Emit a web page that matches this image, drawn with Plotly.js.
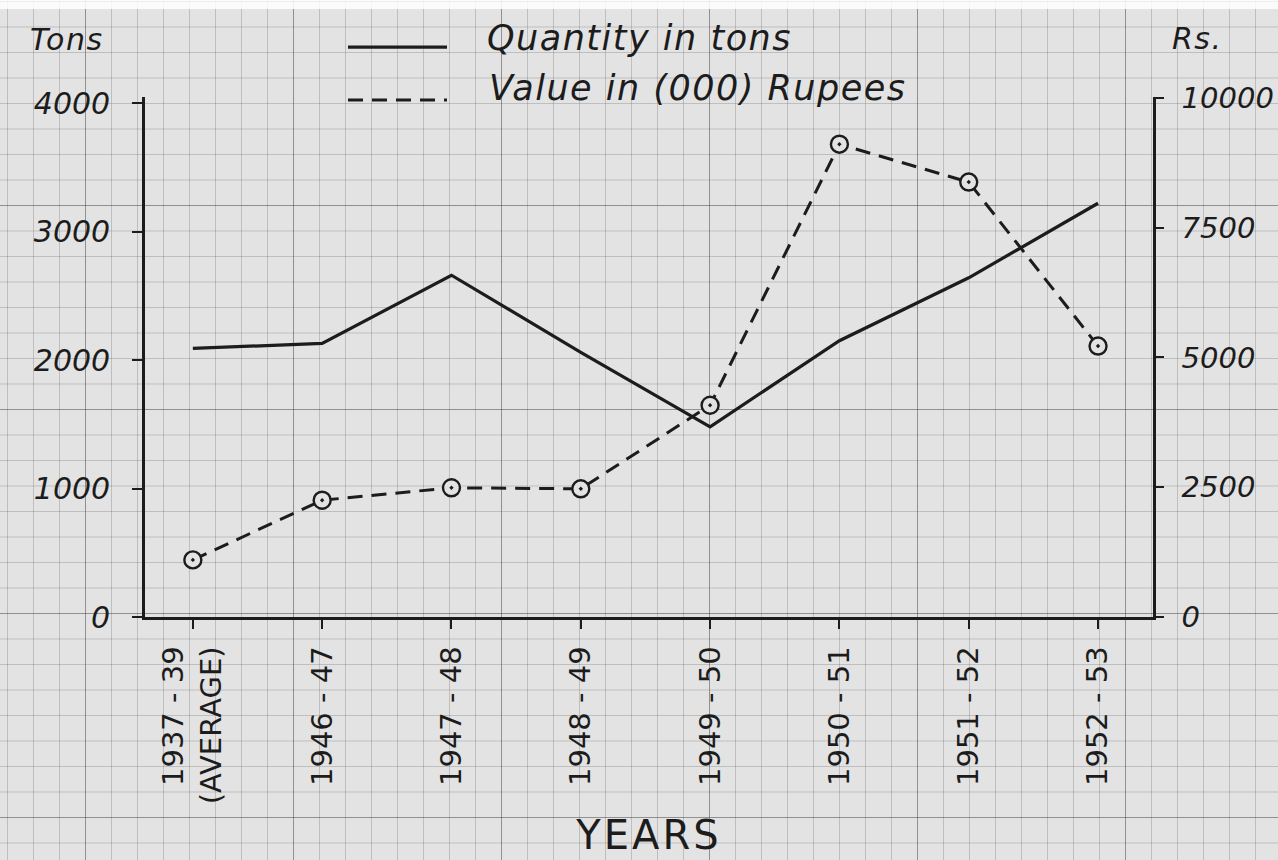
<!DOCTYPE html>
<html>
<head>
<meta charset="utf-8">
<script src="https://cdn.plot.ly/plotly-3.0.1.min.js"></script>
<style>
  html, body { margin: 0; padding: 0; }
  body {
    width: 1278px; height: 860px; overflow: hidden;
    background-color: #e3e3e3;
    background-image:
      linear-gradient(to bottom, rgba(255,255,255,0.85) 9px, transparent 9px),
      linear-gradient(to right, rgba(70,70,70,0.38) 1.5px, transparent 1.5px),
      linear-gradient(to bottom, rgba(70,70,70,0.38) 1.5px, transparent 1.5px),
      linear-gradient(to right, rgba(90,90,90,0.27) 1px, transparent 1px),
      linear-gradient(to bottom, rgba(90,90,90,0.27) 1px, transparent 1px);
    background-size: 1278px 860px, 208px 860px, 1278px 204px, 26px 860px, 1278px 25.5px;
    background-position: 0 0, 85px 0, 0 1px, 7px 0, 0 1px;
    background-repeat: no-repeat, repeat, repeat, repeat, repeat;
  }
  #chart { width: 1278px; height: 860px; }
  .annotation-text { letter-spacing: 1.5px; }
  .g-xtitle text { letter-spacing: 3px; }
</style>
</head>
<body>
<div id="chart"></div>
<script>
// ---- data ----
const yearLabels = ['1937 - 39<br>(AVERAGE)', '1946 - 47', '1947 - 48', '1948 - 49',
                    '1949 - 50', '1950 - 51', '1951 - 52', '1952 - 53'];
const quantityTons = [2090, 2130, 2660, 2060, 1480, 2150, 2640, 3220];
const valueThousandRupees = [1100, 2250, 2490, 2470, 4080, 9110, 8380, 5220];
const tonsTicks = [0, 1000, 2000, 3000, 4000];
const tonsTickText = ['0', '1000', '2000', '3000', '4000'];
const rupeeTicks = [0, 2500, 5000, 7500, 10000];
const rupeeTickText = ['0', '2500', '5000', '7500', '10000'];

const ink = '#1c1c1c';
const hand = 'DejaVu Sans, sans-serif';

const traces = [
  {
    x: yearLabels, y: quantityTons, name: 'Quantity in tons',
    type: 'scatter', mode: 'lines', yaxis: 'y',
    line: { color: ink, width: 3.2 },
    showlegend: false, cliponaxis: false
  },
  {
    x: yearLabels, y: valueThousandRupees, name: 'Value in (000) Rupees',
    type: 'scatter', mode: 'lines+markers', yaxis: 'y2',
    line: { color: ink, width: 3, dash: '15px,9px' },
    marker: { symbol: 'circle-dot', size: 17, color: '#e3e3e3',
              line: { color: ink, width: 2.4 } },
    showlegend: false, cliponaxis: false
  }
];

const layout = {
  width: 1278, height: 860,
  margin: { l: 145, r: 125, t: 97, b: 243 },
  paper_bgcolor: 'rgba(0,0,0,0)', plot_bgcolor: 'rgba(0,0,0,0)',
  showlegend: false,
  font: { family: hand, color: ink },
  xaxis: {
    type: 'category', range: [-0.37, 7.425],
    showgrid: false, zeroline: false,
    showline: true, linecolor: ink, linewidth: 2.8,
    ticks: 'outside', ticklen: 9, tickwidth: 2, tickcolor: ink,
    tickangle: -90, ticklabelstandoff: 6,
    tickfont: { family: hand, size: 29, color: ink },
    title: { text: 'YEARS', font: { family: hand, size: 40, color: ink }, standoff: 18 }
  },
  yaxis: {
    range: [0, 4047], tickvals: tonsTicks, ticktext: tonsTickText,
    showgrid: false, zeroline: false,
    showline: true, linecolor: ink, linewidth: 2.8,
    ticks: 'outside', ticklen: 10, tickwidth: 2, tickcolor: ink,
    ticklabelstandoff: 16,
    tickfont: { family: hand, size: 30, color: ink, style: 'italic' }
  },
  yaxis2: {
    overlaying: 'y', side: 'right',
    range: [0, 10019], tickvals: rupeeTicks, ticktext: rupeeTickText,
    showgrid: false, zeroline: false,
    showline: true, linecolor: ink, linewidth: 2.8,
    ticks: 'outside', ticklen: 8, tickwidth: 2, tickcolor: ink,
    ticklabelstandoff: 12,
    tickfont: { family: hand, size: 29, color: ink, style: 'italic' }
  },
  shapes: [
    { type: 'line', xref: 'paper', yref: 'paper', x0: 0.2014, x1: 0.2996, y0: 1.096, y1: 1.096,
      line: { color: ink, width: 3.2 } },
    { type: 'line', xref: 'paper', yref: 'paper', x0: 0.2014, x1: 0.2996, y0: 0.994, y1: 0.994,
      line: { color: ink, width: 3, dash: '15px,9px' } }
  ],
  annotations: [
    { text: 'Quantity in tons', xref: 'paper', yref: 'paper', x: 0.3373, y: 1.113,
      xanchor: 'left', yanchor: 'middle', showarrow: false,
      font: { family: hand, size: 35, color: ink, style: 'italic' } },
    { text: 'Value in (000) Rupees', xref: 'paper', yref: 'paper', x: 0.3393, y: 1.017,
      xanchor: 'left', yanchor: 'middle', showarrow: false,
      font: { family: hand, size: 35, color: ink, style: 'italic' } },
    { text: 'Tons', xref: 'paper', yref: 'paper', x: -0.116, y: 1.11,
      xanchor: 'left', yanchor: 'middle', showarrow: false,
      font: { family: hand, size: 30, color: ink, style: 'italic' } },
    { text: 'Rs.', xref: 'paper', yref: 'paper', x: 1.017, y: 1.113,
      xanchor: 'left', yanchor: 'middle', showarrow: false,
      font: { family: hand, size: 30, color: ink, style: 'italic' } }
  ]
};

Plotly.newPlot('chart', traces, layout, { staticPlot: true, displayModeBar: false });
</script>
</body>
</html>
